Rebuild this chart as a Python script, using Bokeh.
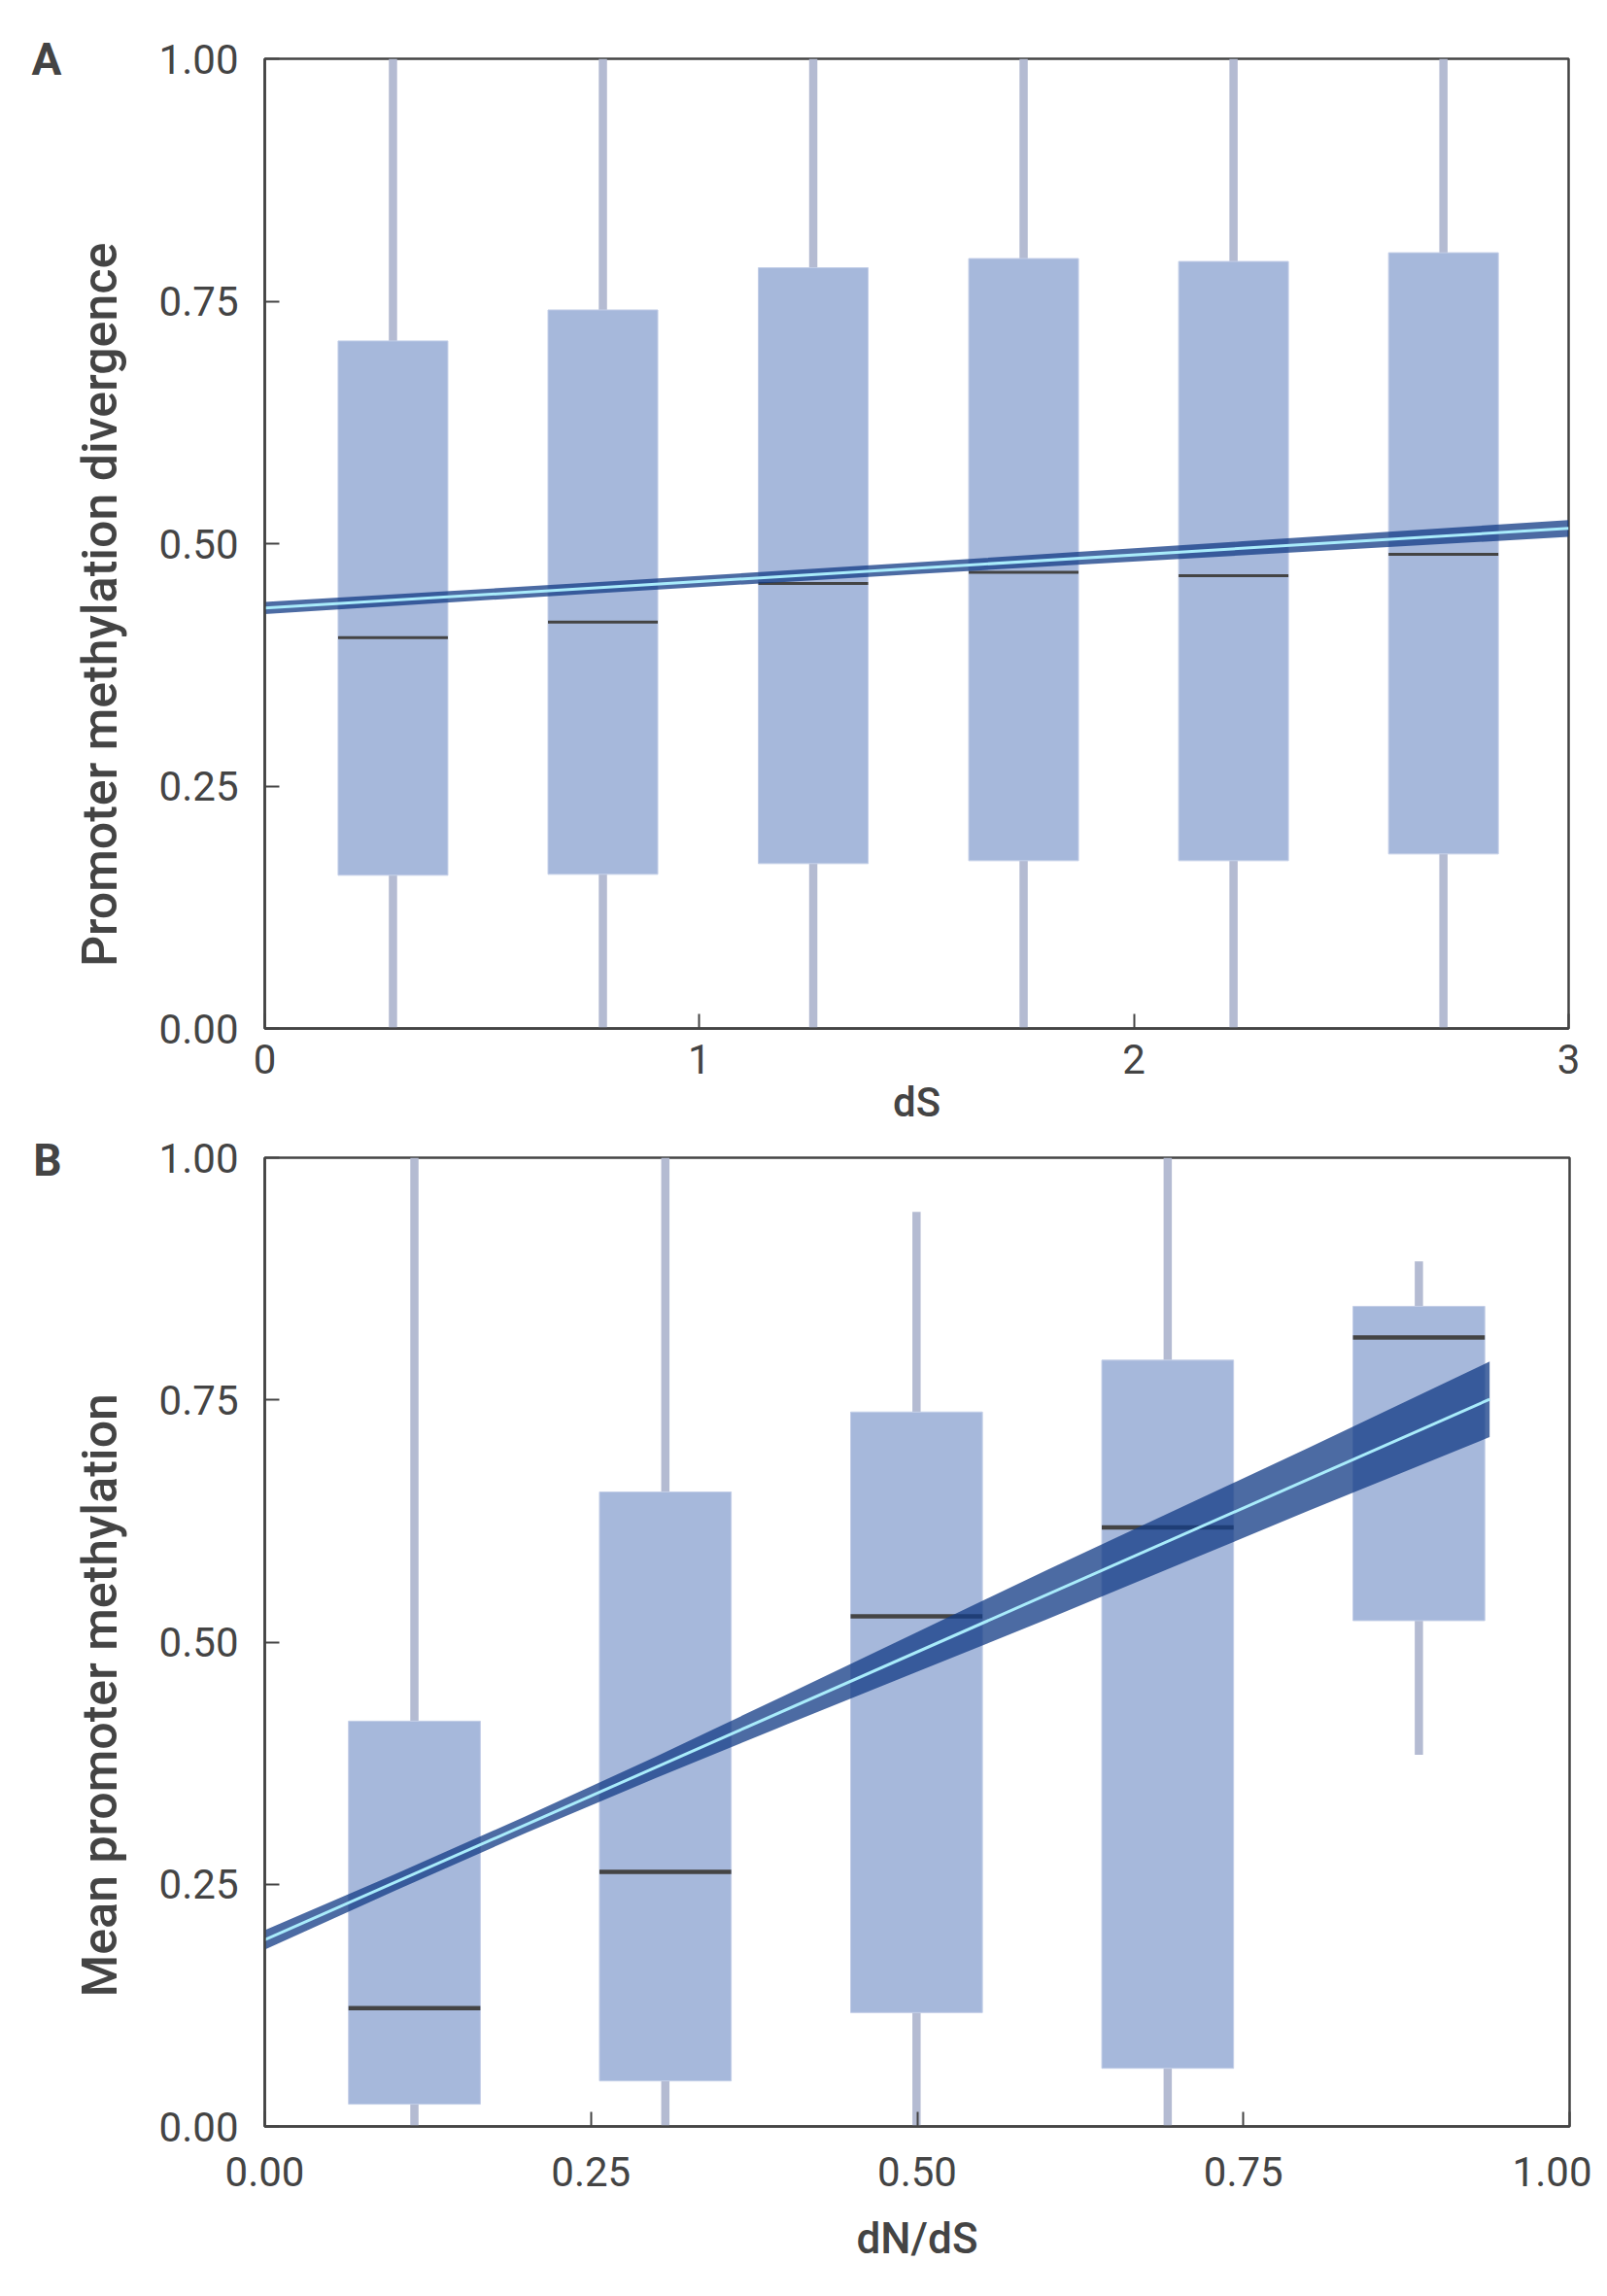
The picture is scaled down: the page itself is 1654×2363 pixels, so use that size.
from bokeh.plotting import figure
from bokeh.models import Range1d, FixedTicker, LinearAxis
from bokeh.layouts import column
from bokeh.embed import file_html
from bokeh.resources import INLINE

# ---------------- Panel A data (dS bins) ----------------
a_centers = [0.295, 0.778, 1.262, 1.746, 2.229, 2.712]
a_q1 = [0.158, 0.159, 0.170, 0.173, 0.173, 0.180]
a_med = [0.403, 0.419, 0.459, 0.4705, 0.467, 0.489]
a_q3 = [0.709, 0.741, 0.7845, 0.794, 0.791, 0.800]
a_wlo = [0.0, 0.0, 0.0, 0.0, 0.0, 0.0]
a_whi = [1.0, 1.0, 1.0, 1.0, 1.0, 1.0]
a_box_w = 0.2526
a_fit_x = [0.0, 3.0]
a_fit_y = [0.4336, 0.5157]
a_band_x = [0.0, 0.75, 1.5, 2.25, 3.0]
a_band_hi = [0.4398, 0.4598, 0.4807, 0.5024, 0.5244]
a_band_lo = [0.4274, 0.4484, 0.4687, 0.4880, 0.5070]
a_xticks = [0, 1, 2, 3]
a_xtick_labels = ["0", "1", "2", "3"]

# ---------------- Panel B data (dN/dS bins) ----------------
b_centers = [0.1147, 0.307, 0.4995, 0.692, 0.8845]
b_q1 = [0.023, 0.047, 0.1175, 0.060, 0.5221]
b_med = [0.122, 0.2627, 0.5267, 0.6183, 0.8145]
b_q3 = [0.4184, 0.655, 0.7375, 0.791, 0.8466]
b_wlo = [0.0, 0.0, 0.0, 0.0, 0.3837]
b_whi = [1.0, 1.0, 0.944, 1.0, 0.893]
b_box_w = 0.101
b_fit_x = [0.0, 0.9387]
b_fit_y = [0.1926, 0.7506]
b_band_x = [0.0, 0.1, 0.2, 0.3, 0.4, 0.5, 0.6, 0.7, 0.8, 0.9387]
b_band_hi = [0.2026, 0.2605, 0.3201, 0.3819, 0.4459, 0.5103, 0.5747, 0.6377, 0.7006, 0.7896]
b_band_lo = [0.1826, 0.2435, 0.3029, 0.3599, 0.4149, 0.4693, 0.5237, 0.5797, 0.6356, 0.7116]
b_xticks = [0.0, 0.25, 0.5, 0.75, 1.0]
b_xtick_labels = ["0.00", "0.25", "0.50", "0.75", "1.00"]

y_ticks = [0.0, 0.25, 0.5, 0.75, 1.0]
y_tick_labels = ["0.00", "0.25", "0.50", "0.75", "1.00"]

BOX = "#a6b8db"
BOX_EDGE = "#c3cee7"
WHISK = "#b4bbd2"
MED = "#444444"
BAND = "#143d86"
FIT = "#a9ecfb"
INK = "#444444"
FONT = "Roboto"
FONT_MED = "Roboto Medium, Roboto"


def extra_left_axis(p, at, text, size, standoff, vertical):
    ax = LinearAxis(ticker=FixedTicker(ticks=[at]), major_label_overrides={at: text})
    ax.axis_line_color = None
    ax.major_tick_line_color = None
    ax.minor_tick_line_color = None
    ax.major_label_standoff = standoff
    ax.major_label_text_font = FONT_MED if vertical else FONT
    ax.major_label_text_font_size = size
    ax.major_label_text_font_style = "normal" if vertical else "bold"
    ax.major_label_text_color = INK
    if vertical:
        ax.major_label_orientation = "vertical"
    p.add_layout(ax, "left")


def panel(xr, xticks, xlabels, ylab, ylab_at, xlab, cen, q1, med, q3, wlo, whi, bw,
          fx, fy, bx, bhi, blo, med_w, tag, fw, fh, bl, bt, bb, br,
          x_stand, xlab_stand, xlab_size):
    p = figure(output_backend="svg", toolbar_location=None,
               frame_width=fw, frame_height=fh,
               x_range=Range1d(*xr), y_range=Range1d(0, 1))
    p.min_border_left = bl
    p.min_border_top = bt
    p.min_border_bottom = bb
    p.min_border_right = br
    p.background_fill_color = "white"
    p.border_fill_color = "white"
    p.outline_line_color = INK
    p.outline_line_width = 2.5
    p.grid.visible = False

    # whiskers
    p.segment(x0=cen, y0=wlo, x1=cen, y1=q1, line_color=WHISK, line_width=8.5)
    p.segment(x0=cen, y0=q3, x1=cen, y1=whi, line_color=WHISK, line_width=8.5)
    # boxes
    p.vbar(x=cen, width=bw, bottom=q1, top=q3, fill_color=BOX,
           line_color=BOX_EDGE, line_width=1)
    # medians
    x0 = [c - bw / 2 for c in cen]
    x1 = [c + bw / 2 for c in cen]
    p.segment(x0=x0, y0=med, x1=x1, y1=med, line_color=MED, line_width=med_w)
    # regression band + line
    p.varea(x=bx, y1=blo, y2=bhi, fill_color=BAND, fill_alpha=0.76)
    p.line(x=fx, y=fy, line_color=FIT, line_width=3)

    for ax in (p.xaxis[0], p.yaxis[0]):
        ax.axis_line_color = INK
        ax.axis_line_width = 2.5
        ax.major_tick_line_color = INK
        ax.major_tick_line_width = 2
        ax.major_tick_in = 15
        ax.major_tick_out = 0
        ax.minor_tick_line_color = None
        ax.major_label_text_font = FONT
        ax.major_label_text_font_size = "42px"
        ax.major_label_text_color = INK

    p.xaxis[0].axis_label = xlab
    p.xaxis[0].axis_label_text_font = FONT_MED
    p.xaxis[0].axis_label_text_font_style = "normal"
    p.xaxis[0].axis_label_text_color = INK
    p.xaxis[0].axis_label_text_font_size = xlab_size
    p.xaxis[0].ticker = FixedTicker(ticks=xticks)
    p.xaxis[0].major_label_overrides = {t: l for t, l in zip(xticks, xlabels)}
    p.yaxis[0].ticker = FixedTicker(ticks=y_ticks)
    p.yaxis[0].major_label_overrides = {t: l for t, l in zip(y_ticks, y_tick_labels)}
    p.xaxis[0].major_label_standoff = x_stand
    p.xaxis[0].axis_label_standoff = xlab_stand
    p.yaxis[0].major_label_standoff = 27

    # y title as a rotated single tick label (lets it sit where the reference has it)
    extra_left_axis(p, ylab_at, ylab, "50px", 22, True)
    # panel tag ("A" / "B")
    extra_left_axis(p, 1.0, tag, "46px", 2, False)
    return p


pa = panel((0, 3), a_xticks, a_xtick_labels, "Promoter methylation divergence", 0.437, "dS",
           a_centers, a_q1, a_med, a_q3, a_wlo, a_whi, a_box_w,
           a_fit_x, a_fit_y, a_band_x, a_band_hi, a_band_lo, 3, "A",
           1342, 998, 272, 60, 107, 24, 16, 2, "42px")
pb = panel((0, 1), b_xticks, b_xtick_labels, "Mean promoter methylation", 0.445, "dN/dS",
           b_centers, b_q1, b_med, b_q3, b_wlo, b_whi, b_box_w,
           b_fit_x, b_fit_y, b_band_x, b_band_hi, b_band_lo, 4.5, "B",
           1343, 997, 271, 26, 165, 24, 31, 25, "44px")

layout = column(pa, pb, spacing=0)
open("out.html", "w").write(file_html(layout, INLINE))
